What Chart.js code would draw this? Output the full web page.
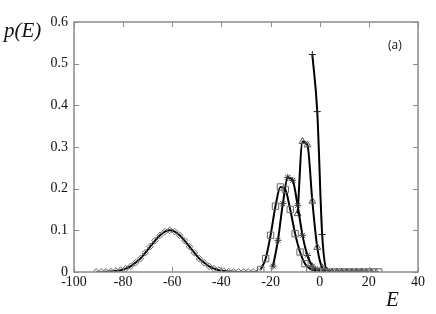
<!DOCTYPE html>
<html>
<head>
<meta charset="utf-8">
<script src="https://cdn.jsdelivr.net/npm/chart.js@4"></script>
<style>
  html, body { margin: 0; padding: 0; background: #fff; }
  #wrap { width: 436px; height: 314px; }
</style>
</head>
<body>
<div id="wrap"><canvas id="chart" width="436" height="314"></canvas></div>
<script>
// data
const diamondE = [-91, -89, -87, -85, -83, -81, -79, -77, -75, -73, -71, -69, -67, -65, -63, -61,
  -59, -57, -55, -53, -51, -49, -47, -45, -43, -41, -39, -37, -35, -33, -31, -29, -27, -25];
const diamondP = [0.0001, 0.0002, 0.0005, 0.0011, 0.0023, 0.0044, 0.008, 0.0135, 0.022, 0.032, 0.046, 0.061, 0.0755, 0.088, 0.097, 0.100,
  0.097, 0.088, 0.0755, 0.061, 0.046, 0.032, 0.022, 0.0135, 0.008, 0.0044, 0.0023, 0.0011, 0.0005, 0.0002, 0.0001, 0, 0, 0];

const squareE = [-24, -22, -20, -18, -16, -14, -12, -10, -8, -6, -4, -2, 0, 2, 4, 6, 8, 10, 12, 14, 16, 18, 20, 22, 24];
const squareP = [0.006, 0.032, 0.088, 0.158, 0.204, 0.198, 0.150, 0.092, 0.048, 0.020, 0.008, 0.003, 0.001, 0, 0, 0, 0, 0, 0, 0, 0, 0, 0, 0, 0];

const starE = [-19, -17, -15, -13, -11, -9, -7, -5, -3, -1, 1, 3, 5, 7, 9, 11, 13, 15, 17, 19, 21];
const starP = [0.014, 0.076, 0.164, 0.227, 0.220, 0.160, 0.088, 0.040, 0.014, 0.005, 0.001, 0, 0, 0, 0, 0, 0, 0, 0, 0, 0];

const triE = [-9, -7, -5, -3, -1, 1, 3, 5, 7, 9, 11, 13, 15, 17];
const triP = [0.140, 0.313, 0.305, 0.170, 0.059, 0.010, 0.001, 0, 0, 0, 0, 0, 0, 0];

const plusE = [-3, -1, 1, 3, 5, 7, 9, 11, 13, 15, 17, 19];
const plusP = [0.522, 0.385, 0.090, 0.003, 0, 0, 0, 0, 0, 0, 0, 0];

const xTicks = [-100, -80, -60, -40, -20, 0, 20, 40];
const yTicks = [0, 0.1, 0.2, 0.3, 0.4, 0.5, 0.6];

const toPts = (xs, ys) => xs.map((x, i) => ({ x: x, y: ys[i] }));

function series(xs, ys, style, radius, markColor) {
    return {
        data: toPts(xs, ys),
        borderColor: '#000',
        borderWidth: 2,
        pointStyle: style,
        pointRadius: radius,
        pointBorderColor: markColor,
        pointBackgroundColor: 'rgba(0,0,0,0)',
        pointBorderWidth: 1,
        cubicInterpolationMode: 'monotone',
        fill: false
    };
}

const serif = '"Liberation Serif", "DejaVu Serif", serif';

// frame, inward ticks and free text
const decor = {
    id: 'decor',
    afterDraw(chart) {
        const ctx = chart.ctx;
        const a = chart.chartArea;
        const xs = chart.scales.x, ys = chart.scales.y;
        ctx.save();
        ctx.strokeStyle = '#8c8c8c';
        ctx.lineWidth = 1.5;
        ctx.strokeRect(a.left, a.top, a.right - a.left, a.bottom - a.top);
        ctx.lineWidth = 1;
        ctx.beginPath();
        xTicks.forEach(v => {
            const px = Math.round(xs.getPixelForValue(v)) + 0.5;
            ctx.moveTo(px, a.bottom); ctx.lineTo(px, a.bottom - 5);
            ctx.moveTo(px, a.top); ctx.lineTo(px, a.top + 5);
        });
        yTicks.forEach(v => {
            const py = Math.round(ys.getPixelForValue(v)) + 0.5;
            ctx.moveTo(a.left, py); ctx.lineTo(a.left + 5, py);
            ctx.moveTo(a.right, py); ctx.lineTo(a.right - 5, py);
        });
        ctx.stroke();

        ctx.fillStyle = '#111';
        ctx.textBaseline = 'alphabetic';
        ctx.font = 'italic 21px ' + serif;
        ctx.textAlign = 'left';
        ctx.fillText('p(E)', 4, 37);
        ctx.fillText('E', 386, 306);
        ctx.font = '12px "Open Sans", sans-serif';
        ctx.fillText('(a)', 388, 49);
        ctx.restore();
    }
};

new Chart(document.getElementById('chart'), {
    type: 'line',
    data: {
        datasets: [
            series(diamondE, diamondP, 'rectRot', 3.3, '#666'),
            series(squareE, squareP, 'rect', 4.5, '#666'),
            series(starE, starP, 'star', 3.5, '#333'),
            series(triE, triP, 'triangle', 4, '#555'),
            series(plusE, plusP, 'cross', 3.5, '#222')
        ]
    },
    plugins: [decor],
    options: {
        responsive: false,
        animation: false,
        layout: { padding: { top: 22, right: 18, left: 0, bottom: 0 } },
        plugins: { legend: { display: false }, tooltip: { enabled: false } },
        scales: {
            x: {
                type: 'linear',
                min: -100, max: 40,
                afterBuildTicks: s => { s.ticks = xTicks.map(v => ({ value: v })); },
                afterFit: s => { s.height = 42; },
                grid: { display: false, drawTicks: false, tickLength: 0 },
                border: { display: false },
                ticks: { color: '#111', padding: 2, font: { family: serif, size: 14 }, maxRotation: 0 }
            },
            y: {
                min: 0, max: 0.6,
                afterBuildTicks: s => { s.ticks = yTicks.map(v => ({ value: v })); },
                afterFit: s => { s.width = 74; },
                grid: { display: false, drawTicks: false, tickLength: 0 },
                border: { display: false },
                ticks: { color: '#111', padding: 6, font: { family: serif, size: 14 } }
            }
        }
    }
});
</script>
</body>
</html>
